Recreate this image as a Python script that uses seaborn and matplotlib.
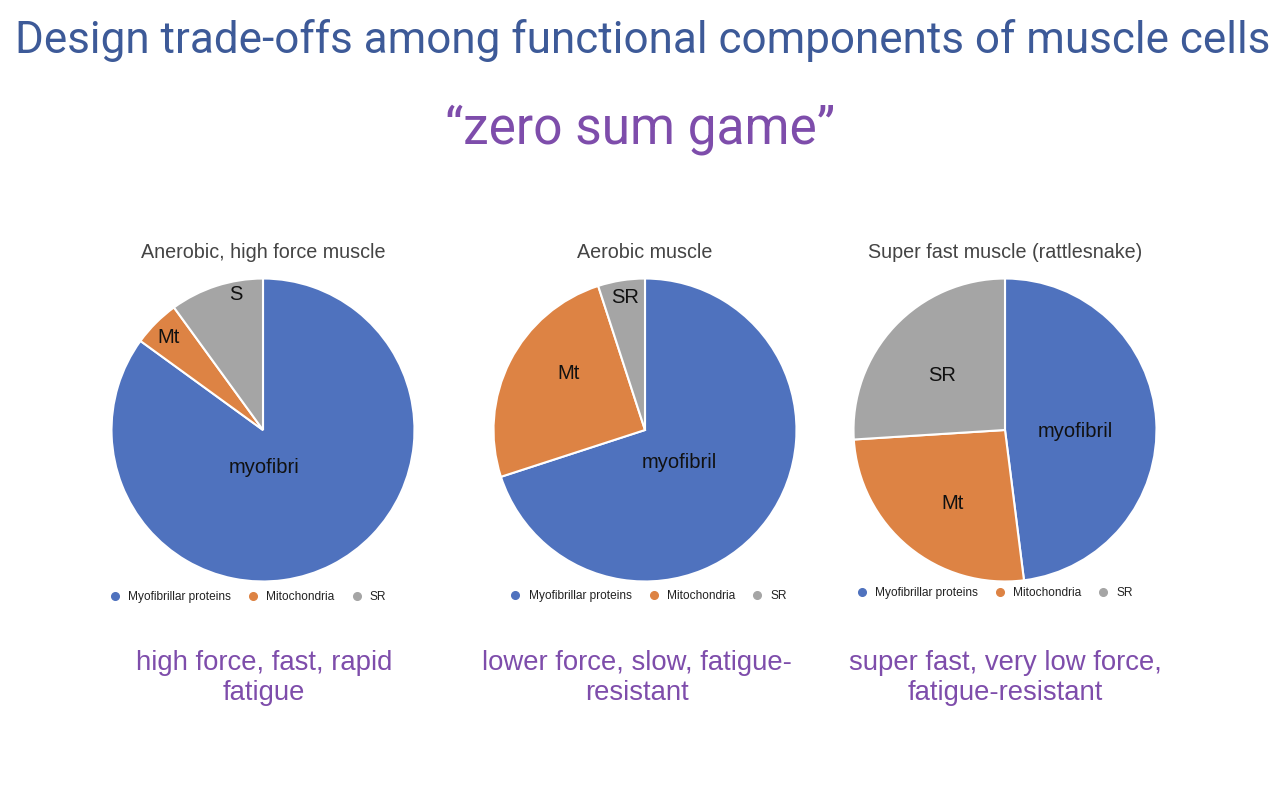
import numpy as np
import seaborn as sns
import matplotlib.pyplot as plt
from matplotlib.lines import Line2D

# data (percent of cell volume)
components = ["Myofibrillar proteins", "Mitochondria", "SR"]
anaerobic = [85, 5, 10]
aerobic = [70, 25, 5]
superfast = [48, 26, 26]

chart_titles = ["Anerobic, high force muscle", "Aerobic muscle", "Super fast muscle (rattlesnake)"]
slice_labels = [["myofibri", "Mt", "S"], ["myofibril", "Mt", "SR"], ["myofibril", "Mt", "SR"]]
captions = ["high force, fast, rapid\nfatigue",
            "lower force, slow, fatigue-\nresistant",
            "super fast, very low force,\nfatigue-resistant"]

sns.set_theme(style="white")
plt.rcParams["font.family"] = ["Liberation Sans", "DejaVu Sans"]

colors = ["#4F72BE", "#DD8344", "#A5A5A5"]
blue_title = "#3D5A98"
purple = "#7E4DAB"

W, H = 1280, 800
fig = plt.figure(figsize=(12.8, 8), dpi=100)

fig.text(0.5 + 3 / W, 1 - 40 / H, "Design trade-offs among functional components of muscle cells",
         ha="center", va="center", fontsize=31.7, color=blue_title, family="Roboto")
fig.text(0.5, 1 - 130 / H, "\u201czero sum game\u201d",
         ha="center", va="center", fontsize=37, color=purple, family="Roboto")

# layout of each pie (pixels): centre x, centre y, radius
centres = [263, 645, 1005]
cy, r = 430, 153
legend_x = [0.45, 0.51, 0.465]
legend_y = [-0.046, -0.043, -0.033]
label_r = [[0.24, 0.87, 0.91], [0.30, 0.63, 0.89], [0.46, 0.58, 0.55]]
# small pixel nudges (right, down) for the slice labels
label_nudge = [[(-16, 5), (-1, 1), (16, -4)],
               [(-2, 6), (9, -13), (1, 1)],
               [(1, 6), (4, 6), (-2, 3)]]
caption_x = [264, 637, 1005]

for i, vals in enumerate([anaerobic, aerobic, superfast]):
    cx = centres[i]
    ax = fig.add_axes([(cx - r) / W, (H - cy - r) / H, 2 * r / W, 2 * r / H])
    wedges, _ = ax.pie(vals, colors=colors, startangle=90, counterclock=False, radius=1,
                       wedgeprops=dict(edgecolor="white", linewidth=1.5))
    for w, lab, d, (nx, ny) in zip(wedges, slice_labels[i], label_r[i], label_nudge[i]):
        ang = np.deg2rad((w.theta1 + w.theta2) / 2)
        ax.text(d * np.cos(ang) + nx / r, d * np.sin(ang) - ny / r, lab,
                ha="center", va="center", fontsize=14.5, color="#111111")
    ax.set_xlim(-1.01, 1.01)
    ax.set_ylim(-1.01, 1.01)
    ax.axis("off")
    ax.text(0.5, 1.08, chart_titles[i], transform=ax.transAxes, ha="center", va="center",
            fontsize=14.2, color="#444444")
    handles = [Line2D([], [], marker="o", linestyle="", markersize=5.5, color=c) for c in colors]
    ax.legend(handles, components, loc="center", bbox_to_anchor=(legend_x[i], legend_y[i]),
              ncol=3, frameon=False, fontsize=8.6, handlelength=1.0, handletextpad=0.6,
              columnspacing=1.35, labelcolor="#222222")
    fig.text(caption_x[i] / W, 1 - 678 / H, captions[i],
             ha="center", va="center", fontsize=19.8, color=purple, linespacing=1.25)

fig.savefig("out.png", dpi=100, facecolor="white")
